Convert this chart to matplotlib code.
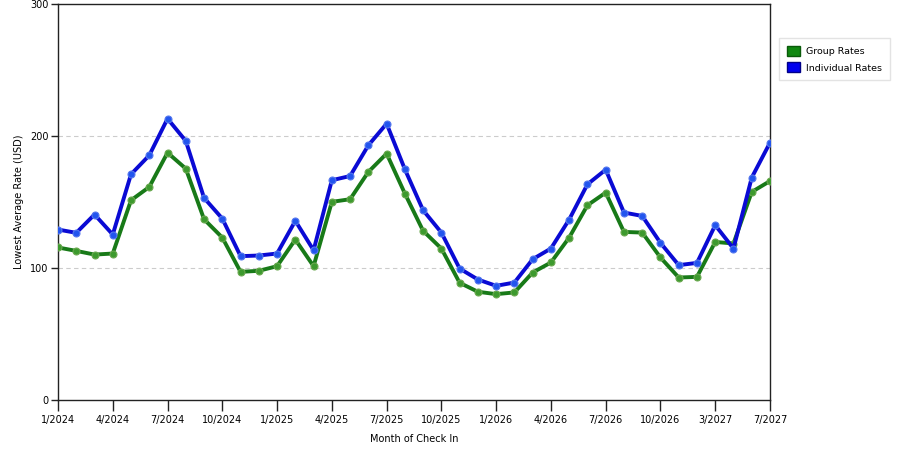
import matplotlib
matplotlib.use('Agg')
import matplotlib.pyplot as plt
from matplotlib.patches import Patch

months = ['1/2024', '2/2024', '3/2024', '4/2024', '5/2024', '6/2024', '7/2024', '8/2024', '9/2024',
          '10/2024', '11/2024', '12/2024', '1/2025', '2/2025', '3/2025', '4/2025', '5/2025', '6/2025',
          '7/2025', '8/2025', '9/2025', '10/2025', '11/2025', '12/2025', '1/2026', '2/2026', '3/2026',
          '4/2026', '5/2026', '6/2026', '7/2026', '8/2026', '9/2026', '10/2026', '11/2026', '12/2026',
          '3/2027', '4/2027', '6/2027', '7/2027']

group_rates = [115.7, 113.1, 110.3, 111.1, 151.5, 161.6, 187.6, 175.5, 137.1, 123.2,
               97.2, 98.0, 101.5, 121.7, 101.5, 150.3, 152.3, 173.0, 186.9, 156.6,
               128.3, 114.9, 88.9, 82.1, 80.3, 81.6, 96.7, 104.3, 123.2, 147.7,
               157.3, 127.5, 127.0, 108.1, 92.9, 93.4, 119.9, 118.7, 157.8, 166.1]

individual_rates = [129.3, 126.8, 140.7, 125.5, 171.2, 185.6, 213.4, 196.5, 153.3, 137.6,
                    109.1, 109.6, 111.1, 135.9, 113.6, 166.7, 169.9, 193.2, 209.6, 175.0,
                    143.9, 127.0, 99.7, 91.4, 86.6, 89.1, 106.8, 114.9, 136.9, 163.6,
                    174.7, 142.2, 139.6, 119.2, 102.3, 104.0, 132.6, 114.9, 168.7, 195.2]

y_ticks = [0, 100, 200, 300]

green = '#187a18'
blue = '#0a0ad4'

fig = plt.figure(figsize=(9, 4.5), dpi=100)
ax = fig.add_axes([58 / 900, 1 - 400 / 450, 712 / 900, 395.5 / 450])

x = list(range(len(months)))
ax.plot(x, group_rates, color=green, lw=2.8, marker='o', ms=5,
        mfc='#3d9a2e', mec='#6aa84f', mew=0.8, zorder=3)
ax.plot(x, individual_rates, color=blue, lw=2.8, marker='o', ms=5,
        mfc='#2255ee', mec='#5577ee', mew=0.8, zorder=4)

ax.set_xlim(0, len(months) - 1)
ax.set_ylim(0, 300)
ax.set_xticks(x[::3])
ax.set_xticklabels(months[::3], fontsize=7)
ax.set_yticks(y_ticks)
ax.set_yticklabels([str(v) for v in y_ticks], fontsize=7)
ax.tick_params(axis='x', length=8, width=1, color='#222222', pad=3)
ax.tick_params(axis='y', length=5, width=1, color='#222222', pad=2)
for s in ax.spines.values():
    s.set_color('#222222')
    s.set_linewidth(1)

for v in [100, 200]:
    ax.axhline(v, color='#cccccc', lw=0.8, ls=(0, (4, 3)), zorder=1)

ax.set_xlabel('Month of Check In', fontsize=7, labelpad=6)
ax.set_ylabel('Lowest Average Rate (USD)', fontsize=7, labelpad=4)

handles = [Patch(facecolor='#118811', edgecolor='#0a5a0a', label='Group Rates'),
           Patch(facecolor='#0000ee', edgecolor='#000088', label='Individual Rates')]
fig.legend(handles=handles, loc='upper left', bbox_to_anchor=(779 / 900, 1 - 38 / 450),
           borderaxespad=0, fontsize=6.8, frameon=True, fancybox=False, edgecolor='#dddddd',
           handlelength=1.4, handleheight=1.25, handletextpad=0.7, borderpad=0.8,
           labelspacing=0.7)

fig.savefig('out.png', dpi=100)
